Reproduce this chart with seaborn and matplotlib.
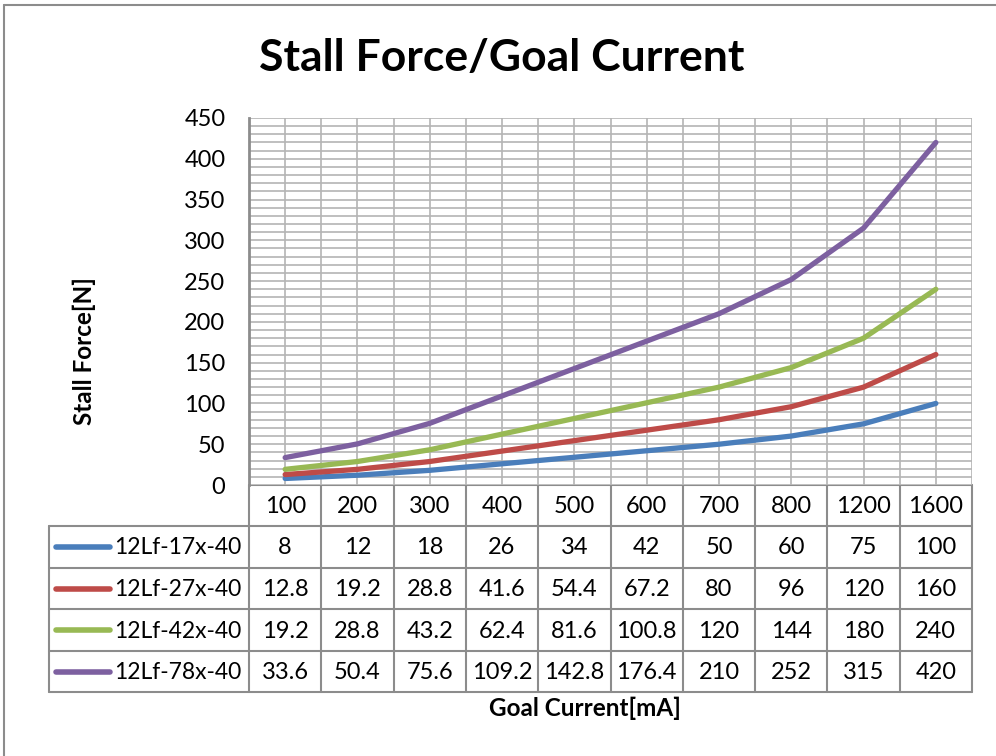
import matplotlib
matplotlib.use("Agg")
import matplotlib.pyplot as plt
import seaborn as sns
import pandas as pd

""" Data """
currents = ["100", "200", "300", "400", "500", "600", "700", "800", "1200", "1600"]
series_names = ["12Lf-17x-40", "12Lf-27x-40", "12Lf-42x-40", "12Lf-78x-40"]
force_17x = [8, 12, 18, 26, 34, 42, 50, 60, 75, 100]
force_27x = [12.8, 19.2, 28.8, 41.6, 54.4, 67.2, 80, 96, 120, 160]
force_42x = [19.2, 28.8, 43.2, 62.4, 81.6, 100.8, 120, 144, 180, 240]
force_78x = [33.6, 50.4, 75.6, 109.2, 142.8, 176.4, 210, 252, 315, 420]
colors = ["#4a7ebb", "#be4b48", "#98b954", "#7d60a0"]
y_ticks = [0, 50, 100, 150, 200, 250, 300, 350, 400, 450]

all_series = [force_17x, force_27x, force_42x, force_78x]
rows = []
for name, vals in zip(series_names, all_series):
    for i, v in enumerate(vals):
        rows.append({"pos": i, "force": v, "series": name})
df = pd.DataFrame(rows)

sns.set_style("white")
plt.rcParams['font.family'] = ['Lato', 'DejaVu Sans']
plt.rcParams['text.color'] = 'black'
plt.rcParams['ytick.color'] = 'black'

W, H = 996, 756
fig = plt.figure(figsize=(W / 100, H / 100), dpi=100)

# plot area in pixels
L, R, T, B = 249, 972, 118, 485
ax = fig.add_axes([L / W, 1 - B / H, (R - L) / W, (B - T) / H])

grid_c = "#b4b4b4"
for y in range(0, 451, 10):
    ax.axhline(y, color=grid_c, lw=1.2, zorder=0)
for k in range(0, 2 * len(currents) + 1):
    ax.axvline(-0.5 + k * 0.5, color=grid_c, lw=1.2, zorder=0)

sns.lineplot(data=df, x="pos", y="force", hue="series", palette=colors,
             linewidth=3.8, legend=False, ax=ax, zorder=3)

ax.set_xlim(-0.5, len(currents) - 0.5)
ax.set_ylim(0, 450)
ax.set_yticks(y_ticks)
ax.set_yticklabels([str(t) for t in y_ticks], fontsize=17, color="black")
ax.set_xticks([])
ax.tick_params(axis='y', length=0, pad=17)
ax.set_xlabel("")
ax.set_ylabel("")
for s in ["top", "right", "bottom"]:
    ax.spines[s].set_visible(False)
ax.spines["left"].set_color("#8c8c8c")
ax.spines["left"].set_linewidth(2)

# overlay in pixel coordinates for table, titles and border
ov = fig.add_axes([0, 0, 1, 1], zorder=-1)
ov.set_xlim(0, W)
ov.set_ylim(H, 0)
ov.axis("off")

line_c = "#8c8c8c"
ov.plot([4, 4], [5, H], color=line_c, lw=1.5)
ov.plot([4, W], [5, 5], color=line_c, lw=1.5)

ov.text(502, 58, "Stall Force/Goal Current", ha="center", va="center",
        fontsize=32, fontweight="bold")
ov.text(84, 351, "Stall Force[N]", ha="center", va="center", rotation=90,
        fontsize=17.5, fontweight="bold")
ov.text(585, 708, "Goal Current[mA]", ha="center", va="center",
        fontsize=17.5, fontweight="bold")

# data table
row_y = [485, 526, 568, 609, 651, 692]
col_w = (R - L) / len(currents)
tab_left = 49
for y in row_y[1:]:
    ov.plot([tab_left, R], [y, y], color=line_c, lw=1.5)
ov.plot([L, R], [row_y[0], row_y[0]], color=line_c, lw=1.5)
ov.plot([tab_left, tab_left], [row_y[1], row_y[-1]], color=line_c, lw=1.5)
for k in range(len(currents) + 1):
    x = L + k * col_w
    ov.plot([x, x], [row_y[0], row_y[-1]], color=line_c, lw=1.5)

for k, c in enumerate(currents):
    ov.text(L + (k + 0.5) * col_w, (row_y[0] + row_y[1]) / 2 + 1, c,
            ha="center", va="center", fontsize=17)

for r, (name, vals, col) in enumerate(zip(series_names, all_series, colors)):
    yc = (row_y[r + 1] + row_y[r + 2]) / 2 + 1
    ov.plot([56, 110], [yc - 1, yc - 1], color=col, lw=4, solid_capstyle="round")
    ov.text(114, yc, name, ha="left", va="center", fontsize=16.5)
    for k, v in enumerate(vals):
        ov.text(L + (k + 0.5) * col_w, yc, f"{v:g}", ha="center", va="center",
                fontsize=17)

plt.savefig("out.png", dpi=100)
